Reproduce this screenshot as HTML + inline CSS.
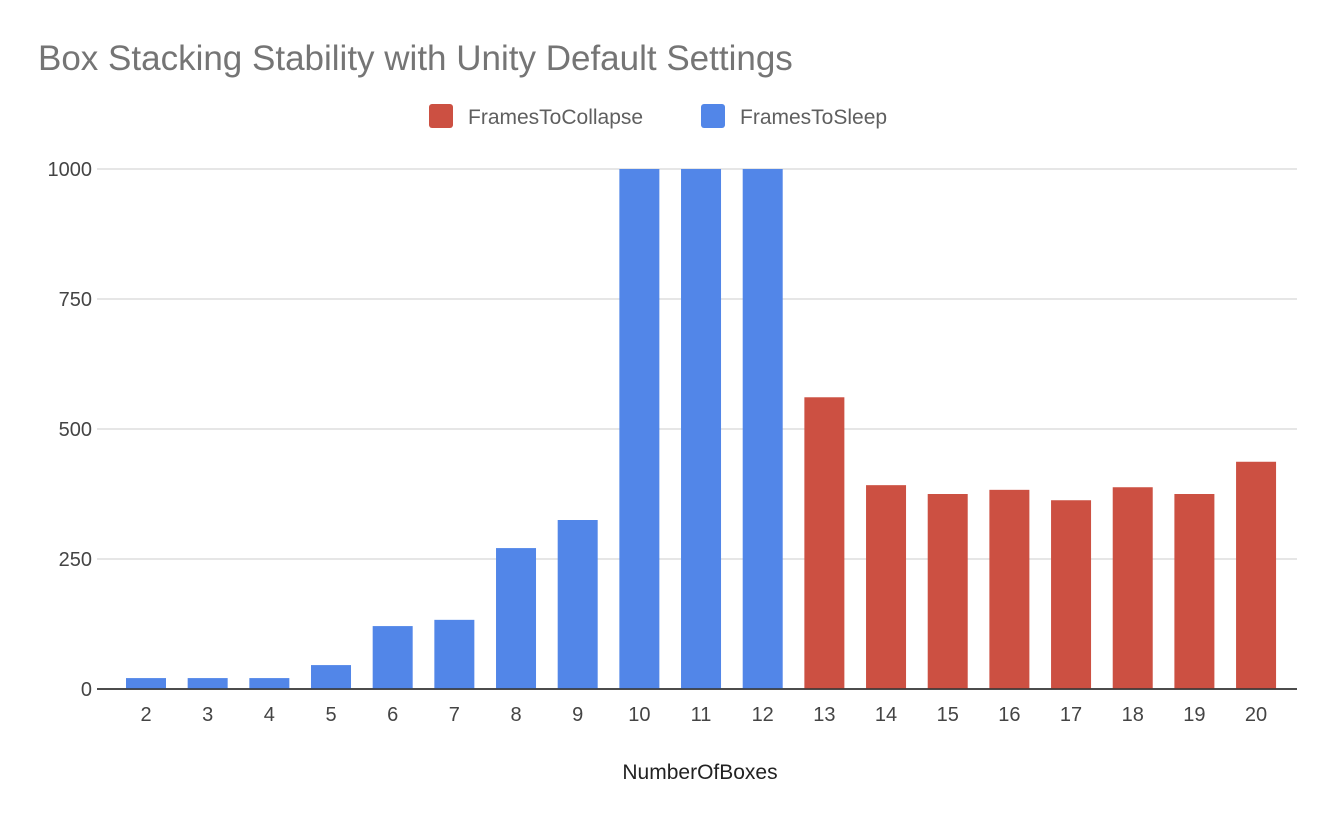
<!DOCTYPE html>
<html><head><meta charset="utf-8">
<style>
body{margin:0;background:#fff;font-family:"Liberation Sans",Arial,sans-serif;}
svg text{font-family:"Liberation Sans",Arial,sans-serif;}
</style></head>
<body>
<svg width="1334" height="820" xmlns="http://www.w3.org/2000/svg">
<text x="38" y="70" font-size="35" fill="#757575">Box Stacking Stability with Unity Default Settings</text>
<g>
<rect x="429" y="104" width="24" height="24" rx="3" fill="#cc5042"/>
<text x="468" y="124" font-size="21" fill="#5f5f5f">FramesToCollapse</text>
<rect x="701" y="104" width="24" height="24" rx="3" fill="#5286e8"/>
<text x="740" y="124" font-size="21" fill="#5f5f5f">FramesToSleep</text>
</g>
<g id="grid"></g>
<g id="bars"></g>
<g id="xlabels"></g>
<text x="700" y="779" font-size="21" fill="#222" text-anchor="middle">NumberOfBoxes</text>
</svg>
<script>
const categories=[2,3,4,5,6,7,8,9,10,11,12,13,14,15,16,17,18,19,20];
const framesToSleep=[21,21,21,46,121,133,271,325,1000,1000,1000,0,0,0,0,0,0,0,0];
const framesToCollapse=[0,0,0,0,0,0,0,0,0,0,0,561,392,375,383,363,388,375,437];
const yTicks=[0,250,500,750,1000];
const NS="http://www.w3.org/2000/svg";
const y0=689,yTop=169,yMax=1000;
function yScale(v){return y0-(v/yMax)*(y0-yTop);}
function xScale(i){return 146+i*61.67;}
const grid=document.getElementById('grid'),bars=document.getElementById('bars'),xl=document.getElementById('xlabels');
function mk(tag,attrs,parent){const e=document.createElementNS(NS,tag);for(const k in attrs)e.setAttribute(k,attrs[k]);parent.appendChild(e);return e;}
yTicks.forEach(t=>{
 const y=yScale(t);
 const l=mk('line',{x1:97,x2:1297,y1:y,y2:y,stroke:t===0?'#333':'#ccc','stroke-width':t===0?1.5:1},grid);
 
 
 const tx=mk('text',{x:92,y:y+7,'font-size':20,fill:'#444','text-anchor':'end'},grid);
 tx.textContent=t;
 
 
});
categories.forEach((c,i)=>{
 const cx=xScale(i),w=40;
 let base=0;
 [[framesToSleep[i],'#5286e8','sleep'],[framesToCollapse[i],'#cc5042','collapse']].forEach(([v,col,n])=>{
  if(!v)return;
  const r=mk('rect',{x:cx-w/2,y:yScale(base+v),width:w,height:yScale(base)-yScale(base+v),fill:col},bars);
  
  
  base+=v;
 });
 const t=mk('text',{x:cx,y:721,'font-size':20,fill:'#444','text-anchor':'middle'},xl);
 t.textContent=c;
 
 
});
// redraw baseline on top
const bl=mk('line',{x1:97,x2:1297,y1:y0,y2:y0,stroke:'#333','stroke-width':1.5},bars);


</script>
</body></html>
